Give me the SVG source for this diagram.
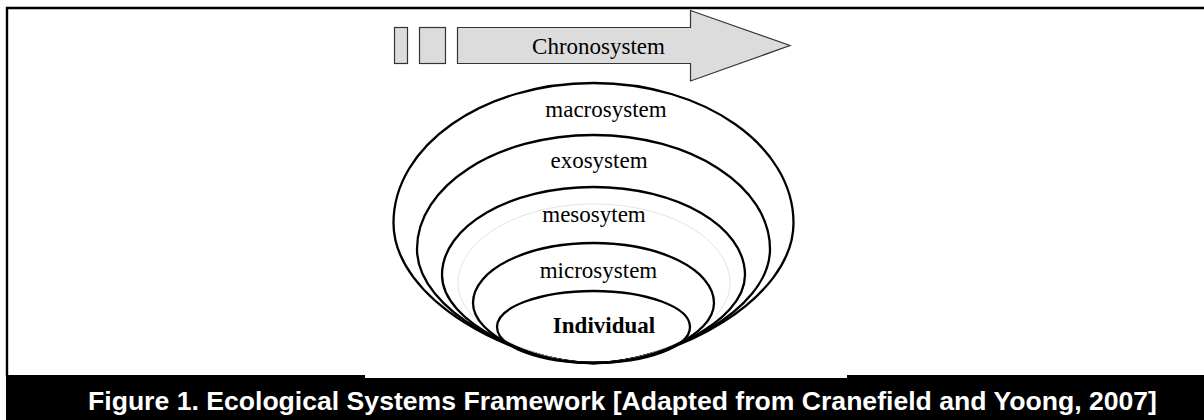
<svg xmlns="http://www.w3.org/2000/svg" width="1204" height="420" viewBox="0 0 1204 420">
<style>
.ring{fill:none;stroke:#000;stroke-width:2.3}
.faint{fill:none;stroke:#e2e2e2;stroke-width:1}
.lbl{font-family:"Liberation Serif","Times New Roman",serif;font-size:23px;fill:#000;text-anchor:middle}
.bold{font-weight:bold}
.shape{fill:#dcdcdc;stroke:#333;stroke-width:1.2}
.cap{font-family:"Liberation Sans",Arial,sans-serif;font-weight:bold;font-size:26.6px;fill:#fff}
</style>
<rect width="1204" height="420" fill="#fff"/>
<path d="M7 376 V8 H1204" fill="none" stroke="#000" stroke-width="2.4"/>
<rect x="6" y="375" width="1198" height="45" fill="#000"/>
<rect x="365" y="374" width="482" height="4" fill="#fff"/>
<g id="chronosystem">
<rect class="shape" x="394.5" y="27.5" width="13" height="36"/>
<rect class="shape" x="419.5" y="27.5" width="26" height="36"/>
<polygon class="shape" points="457.5,27.5 690.5,27.5 690.5,10.5 790,45.5 690.5,81 690.5,63.5 457.5,63.5"/>
<text class="lbl" x="598.5" y="54">Chronosystem</text>
</g>
<g id="macrosystem">
<path class="ring" d="M593.5,83 C703.9,83 793.5,145.7 793.5,223 C793.5,300 673.5,363 593.5,363 C513.5,363 393.5,300 393.5,223 C393.5,145.7 483.1,83 593.5,83 Z"/>
<text class="lbl" x="606" y="117">macrosystem</text>
</g>
<g id="exosystem">
<path class="ring" d="M593.5,135 C690.9,135 770,186.1 770,249 C770,311.7 664.1,363 593.5,363 C522.9,363 417,311.7 417,249 C417,186.1 496.1,135 593.5,135 Z"/>
<text class="lbl" x="599" y="168">exosystem</text>
</g>
<g id="mesosystem">
<path class="ring" d="M593.5,187 C677.1,187 745,226.4 745,275 C745,323.4 654.1,363 593.5,363 C532.9,363 442,323.4 442,275 C442,226.4 509.9,187 593.5,187 Z"/>
<path class="faint" d="M594,204 C669.1,204 730,239.6 730,283.5 C730,327.2 651.1,363 594,363 C536.9,363 458,327.2 458,283.5 C458,239.6 518.9,204 594,204 Z"/>
<text class="lbl" x="594" y="222">mesosytem</text>
</g>
<g id="microsystem">
<path class="ring" d="M593.5,243 C660,243 714,269.9 714,303 C714,336 650.1,363 593.5,363 C536.9,363 473,336 473,303 C473,269.9 527,243 593.5,243 Z"/>
<text class="lbl" x="598.5" y="278">microsystem</text>
</g>
<g id="individual">
<ellipse class="ring" cx="593.5" cy="327" rx="96.5" ry="36"/>
<text class="lbl bold" x="604" y="333">Individual</text>
</g>
<g id="connectors"></g>
<text class="cap" x="88" y="410">Figure 1. Ecological Systems Framework [Adapted from Cranefield and Yoong, 2007]</text>
</svg>
